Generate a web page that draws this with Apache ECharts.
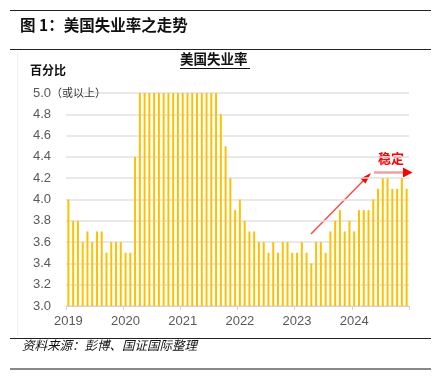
<!DOCTYPE html>
<html>
<head>
<meta charset="utf-8">
<script src="https://cdn.jsdelivr.net/npm/echarts@6/dist/echarts.min.js"></script>
<style>
  html, body { margin: 0; padding: 0; background: #fff; }
  #chart { width: 439px; height: 377px; }
</style>
</head>
<body>
<div id="chart"></div>
<script>
// 美国失业率（月度，% ；5.0 或以上封顶）
const years = ['2019', '2020', '2021', '2022', '2023', '2024']
const rate2019 = [4.0, 3.8, 3.8, 3.6, 3.7, 3.6, 3.7, 3.7, 3.5, 3.6, 3.6, 3.6]
const rate2020 = [3.5, 3.5, 4.4, 5.0, 5.0, 5.0, 5.0, 5.0, 5.0, 5.0, 5.0, 5.0]
const rate2021 = [5.0, 5.0, 5.0, 5.0, 5.0, 5.0, 5.0, 5.0, 4.8, 4.5, 4.2, 3.9]
const rate2022 = [4.0, 3.8, 3.7, 3.7, 3.6, 3.6, 3.5, 3.6, 3.5, 3.6, 3.6, 3.5]
const rate2023 = [3.5, 3.6, 3.5, 3.4, 3.6, 3.6, 3.5, 3.7, 3.8, 3.9, 3.7, 3.8]
const rate2024 = [3.7, 3.9, 3.9, 3.9, 4.0, 4.1, 4.2, 4.2, 4.1, 4.1, 4.2, 4.1]

const months = []
years.forEach(y => {
  for (let m = 1; m <= 12; m++) months.push(y + '-' + String(m).padStart(2, '0'))
})
const rates = [].concat(rate2019, rate2020, rate2021, rate2022, rate2023, rate2024)

const myChart = echarts.init(document.getElementById('chart'))

const numFont = '"Liberation Sans", Arial, sans-serif'
const cjkFont = '"Noto Sans CJK SC", sans-serif'

const option = {
  animation: false,
  grid: { left: 66, right: 30, top: 93, bottom: 71 },
  xAxis: {
    type: 'category',
    data: months,
    axisLine: { lineStyle: { color: '#d4d4d4', width: 1 } },
    axisTick: { show: true, interval: 11, length: 4, lineStyle: { color: '#d4d4d4' } },
    axisLabel: {
      interval: 11,
      margin: 9,
      color: '#595959',
      fontSize: 13,
      fontFamily: numFont,
      formatter: v => v.slice(0, 4)
    },
    splitLine: { show: false }
  },
  yAxis: {
    type: 'value',
    min: 3,
    max: 5,
    interval: 0.2,
    axisLine: { show: false },
    axisTick: { show: false },
    axisLabel: {
      align: 'left',
      margin: 33,
      color: '#595959',
      fontSize: 13,
      fontFamily: numFont,
      formatter: v => {
        const s = v.toFixed(1)
        return v >= 5 ? s + '{s|（或以上）}' : s
      },
      rich: {
        s: { fontSize: 11, color: '#333', fontFamily: '"Noto Sans CJK SC", serif' }
      }
    },
    splitLine: { lineStyle: { color: '#e2e2e2', width: 1.5 } }
  },
  series: [{
    type: 'bar',
    data: rates,
    barWidth: 2,
    itemStyle: { color: '#FFC000' }
  }],
  graphic: [
    // header
    { type: 'line', shape: { x1: 10, y1: 10.5, x2: 431, y2: 10.5 }, style: { stroke: '#222', lineWidth: 1 } },
    { type: 'text', left: 20, top: 17, style: { text: '图 1：美国失业率之走势', font: 'bold 15.5px ' + cjkFont, fill: '#111' } },
    { type: 'line', shape: { x1: 10, y1: 49.5, x2: 431, y2: 49.5 }, style: { stroke: '#222', lineWidth: 1 } },
    // faint frame edge of the chart picture
    { type: 'line', shape: { x1: 17.5, y1: 52, x2: 17.5, y2: 336 }, style: { stroke: '#efefef', lineWidth: 1 } },
    // chart title
    { type: 'text', left: 180, top: 52, style: { text: '美国失业率', font: 'bold 13.5px ' + cjkFont, fill: '#111' } },
    { type: 'line', shape: { x1: 180, y1: 68.5, x2: 250, y2: 68.5 }, style: { stroke: '#111', lineWidth: 1 } },
    { type: 'text', left: 30, top: 64, style: { text: '百分比', font: 'bold 12px ' + cjkFont, fill: '#111' } },
    // annotations
    { type: 'line', shape: { x1: 311, y1: 234, x2: 365, y2: 179 }, style: { stroke: '#ff4a4a', lineWidth: 1.5 } },
    { type: 'polygon', shape: { points: [[371, 173], [360.5, 178.5], [365.5, 183.5]] }, style: { fill: '#ff0000' } },
    { type: 'line', shape: { x1: 374, y1: 172.5, x2: 405, y2: 172.5 }, style: { stroke: '#f59a9a', lineWidth: 2.4 } },
    { type: 'polygon', shape: { points: [[412.5, 172.5], [403, 167.5], [403, 177.5]] }, style: { fill: '#ff0000' } },
    { type: 'text', left: 378, top: 152, style: { text: '稳定', font: 'bold 13px ' + cjkFont, fill: '#ff0000' } },
    // footer
    { type: 'line', shape: { x1: 10, y1: 338.5, x2: 431, y2: 338.5 }, style: { stroke: '#222', lineWidth: 1 } },
    { type: 'text', left: 22, top: 339, style: { text: '资料来源：彭博、国证国际整理', font: 'italic 12.5px ' + cjkFont, fill: '#111' } },
    { type: 'line', shape: { x1: 10, y1: 369, x2: 431, y2: 369 }, style: { stroke: '#888', lineWidth: 2 } }
  ]
}

myChart.setOption(option)
</script>
</body>
</html>
